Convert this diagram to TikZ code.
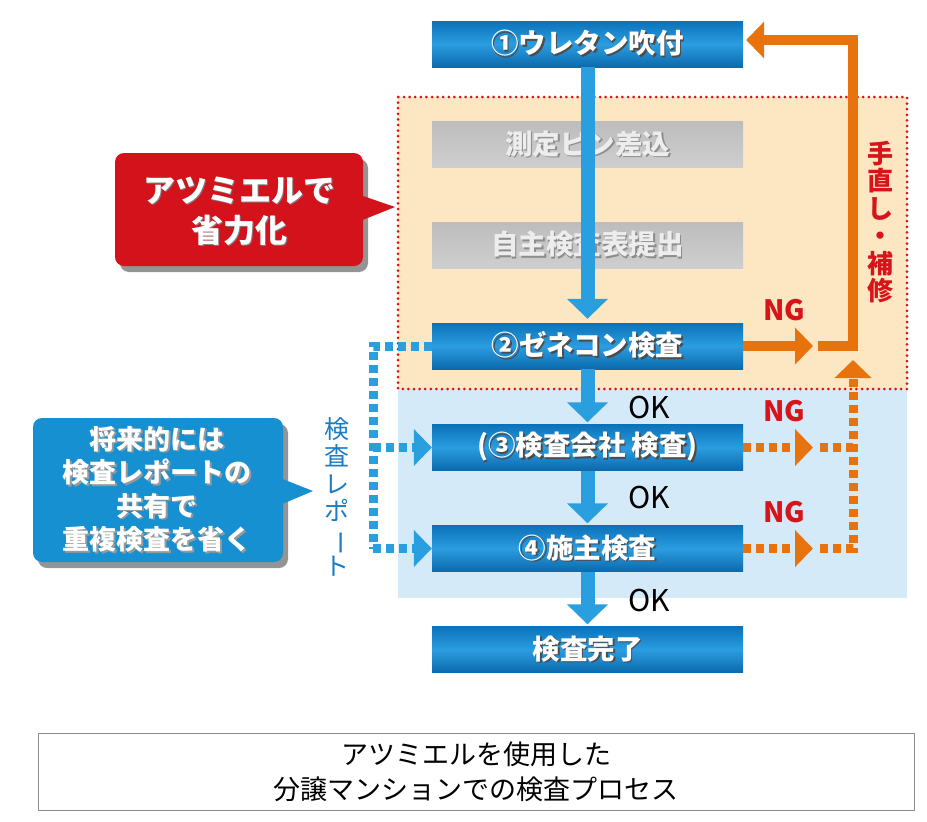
\documentclass[tikz,border=0pt]{standalone}
\usepackage{fontspec}
\setmainfont{Noto Sans CJK JP}
\usetikzlibrary{arrows.meta}
\definecolor{stepTop}{HTML}{0B72BA}
\definecolor{stepMid}{HTML}{2B9DE0}
\definecolor{stepBot}{HTML}{0C69AD}
\definecolor{flowBlue}{HTML}{2A9FE0}
\definecolor{ngOrange}{HTML}{E8730C}
\definecolor{ngRed}{HTML}{D7141A}
\definecolor{noteRed}{HTML}{D4121C}
\definecolor{noteBlue}{HTML}{1790D2}
\definecolor{areaOrange}{HTML}{FDE7C2}
\definecolor{areaBlue}{HTML}{D5EAF8}
\definecolor{reportBlue}{HTML}{1A7CC4}
\newcommand{\sLabel}[2]{\makebox[0pt][l]{\raisebox{-1.6pt}{\hspace{1.6pt}\textcolor{#1}{#2}}}#2}
\tikzset{
  stepbox/.style={minimum width=311pt, minimum height=46pt, inner sep=0pt,
    top color=stepTop, bottom color=stepBot, middle color=stepMid,
    text=white, font=\fontsize{27.5}{30}\selectfont\bfseries},
  pastbox/.style={minimum width=311pt, minimum height=46pt, inner sep=0pt,
    top color=black!26, bottom color=black!19,
    text=black!7, font=\fontsize{27.5}{30}\selectfont\bfseries},
  flow/.style={draw=flowBlue, line width=14pt, -{Triangle[width=40pt,length=20pt]}},
  ngline/.style={draw=ngOrange, line width=10pt},
  ngdots/.style={draw=ngOrange, line width=9pt, dash pattern=on 8pt off 5pt},
  repdots/.style={draw=flowBlue, line width=9pt, dash pattern=on 8pt off 5pt},
  ngtip/.style={-{Triangle[width=36pt,length=18pt]}},
  oklabel/.style={anchor=west, inner sep=0pt, font=\fontsize{30}{32}\selectfont},
  nglabel/.style={inner sep=0pt, text=ngRed, font=\fontsize{28}{30}\selectfont\bfseries},
  notetext/.style={align=center, text=white, inner sep=0pt}
}
\begin{document}
\begin{tikzpicture}[x=1pt,y=-1pt]
\useasboundingbox (0,0) rectangle (927,822);
% areas
\fill[areaBlue] (398,389) rectangle (907,598);
\fill[areaOrange] (398,97) rectangle (907,389);
\draw[ngRed, line width=3pt, line cap=round, dash pattern=on 0pt off 5.6pt] (398,97) rectangle (907,389);

% notes
\fill[black!60, opacity=.7, rounded corners=9pt] (120,159) rectangle (368,272);
\fill[noteRed, rounded corners=9pt] (115,153) rectangle (363,266);
\fill[noteRed] (360,195) -- (395,207) -- (360,221) -- cycle;
\node[notetext, font=\fontsize{32}{40}\selectfont\bfseries] (savingNote) at (239,212) {\sLabel{black!50}{アツミエルで}\\\sLabel{black!50}{省力化}};
\fill[black!60, opacity=.7, rounded corners=9pt] (38,424) rectangle (288,568);
\fill[noteBlue, rounded corners=9pt] (33,418) rectangle (283,562);
\fill[noteBlue] (280,478) -- (313,491) -- (280,505) -- cycle;
\node[notetext, font=\fontsize{27}{33.5}\selectfont\bfseries] (shareNote) at (157,490) {\sLabel{black!40}{将来的には}\\\sLabel{black!40}{検査レポートの}\\\sLabel{black!40}{共有で}\\\sLabel{black!40}{重複検査を省く}};

% steps
\node[pastbox] (pins) at (587.5,144.5) {\sLabel{black!45}{測定ピン差込}};
\node[pastbox] (selfcheck) at (587.5,245) {\sLabel{black!45}{自主検査表提出}};
\node[stepbox] (urethane) at (587.5,44) {\sLabel{black!70}{①ウレタン吹付}};
\node[stepbox] (general) at (587.5,346) {\sLabel{black!70}{②ゼネコン検査}};
\node[stepbox] (agency) at (587.5,447.5) {\sLabel{black!70}{(③検査会社 検査)}};
\node[stepbox] (owner) at (587.5,548.5) {\sLabel{black!70}{④施主検査}};
\node[stepbox] (done) at (587.5,649.5) {\sLabel{black!70}{検査完了}};

% flow
\draw[flow, shorten >=4pt] (urethane) -- (general);
\draw[flow, shorten >=2pt] (general) -- (agency);
\draw[flow, shorten >=2pt] (agency) -- (owner);
\draw[flow, shorten >=2pt] (owner) -- (done);
\node[oklabel] (ok1) at (628,408) {OK};
\node[oklabel] (ok2) at (628,497) {OK};
\node[oklabel] (ok3) at (628,600) {OK};

% rework
\coordinate (ngGap) at (813,346);
\coordinate (ngTurn) at (853,346);
\coordinate (ngTop) at (853,40);
\draw[ngline, ngtip] (general.east) -- (ngGap);
\draw[ngline, ngtip, shorten >=3pt] (818,346) -- (ngTurn) -- (ngTop) -- (urethane.east |- ngTop);
\draw[ngdots, ngtip] (agency.east) -- (813,447.5);
\draw[ngdots] (820,447.5) -- (853,447.5);
\draw[ngdots, ngtip] (owner.east) -- (813,548.5);
\draw[ngdots, ngtip] (820,548.5) -| (853,360);
\node[nglabel] (ng1) at (784,310) {NG};
\node[nglabel] (ng2) at (784,411) {NG};
\node[nglabel] (ng3) at (784,512) {NG};
\node[align=center, inner sep=0pt, text=ngRed, font=\fontsize{26}{27.5}\selectfont\bfseries] (repair) at (880,222) {手\\直\\し\\・\\補\\修};

% report
\coordinate (rpTop) at (373,346);
\coordinate (rpBot) at (373,548.5);
\draw[repdots] (general.west) -- (rpTop) -- (rpBot);
\draw[repdots, ngtip] (rpTop |- agency.west) -- (agency.west);
\draw[repdots, ngtip] (rpBot) -- (owner.west);
\node[align=center, inner sep=0pt, text=reportBlue, font=\fontsize{25}{27.5}\selectfont] (report) at (337,497) {検\\査\\レ\\ポ\\\rotatebox[origin=c]{-90}{ー}\\ト};

% caption
\node[draw=black!45, line width=1pt, minimum width=876pt, minimum height=77pt, align=center, font=\fontsize{27}{35}\selectfont] (caption) at (476,771.5) {アツミエルを使用した\\分譲マンションでの検査プロセス};
\end{tikzpicture}
\end{document}
